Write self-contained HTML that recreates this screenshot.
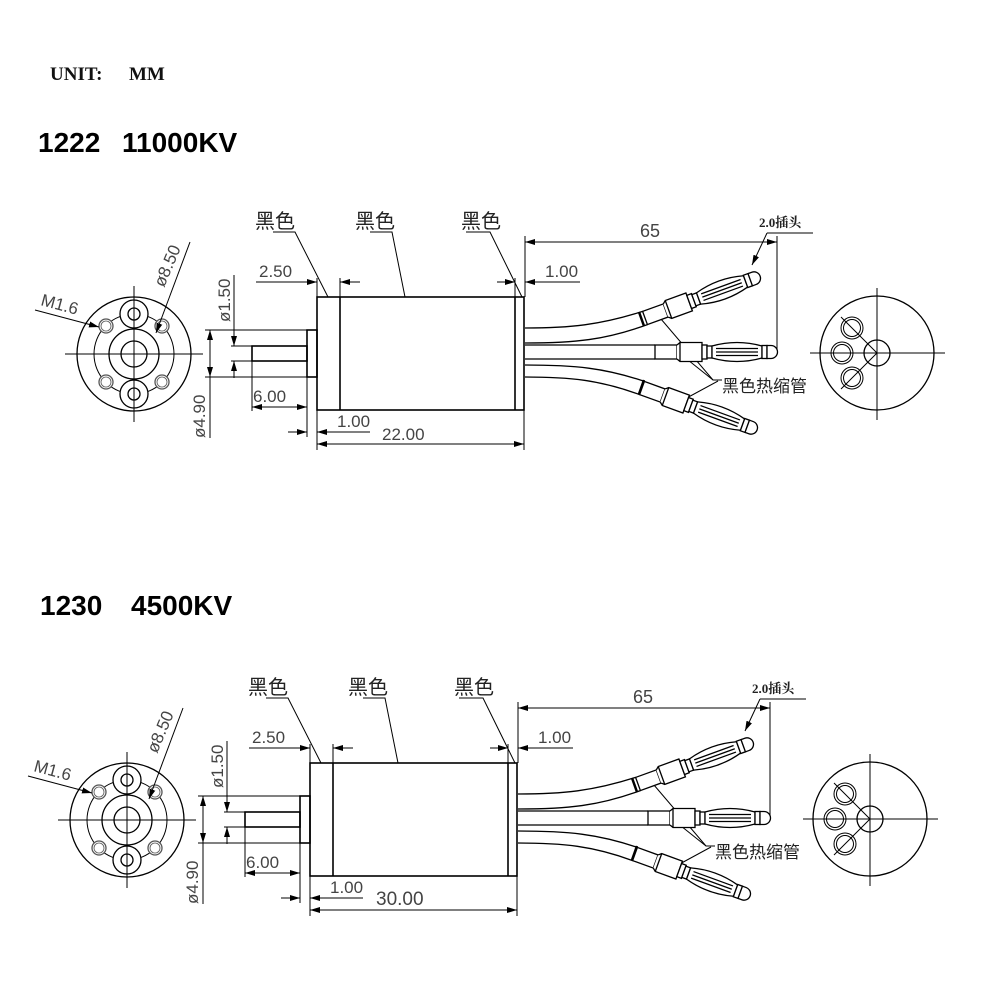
<!DOCTYPE html>
<html><head><meta charset="utf-8"><style>
html,body{margin:0;padding:0;background:#fff;}
svg{display:block;}
.d{font-family:"Liberation Sans","Noto Sans CJK SC",sans-serif;fill:#444;font-size:17px;}
.c{font-family:"Liberation Sans","Noto Sans CJK SC",sans-serif;fill:#222;font-size:20px;}
</style></head><body>
<svg width="1000" height="1000" viewBox="0 0 1000 1000" xmlns="http://www.w3.org/2000/svg">
<defs>
<marker id="a" viewBox="0 0 10 6" refX="10" refY="3" markerWidth="10" markerHeight="6" markerUnits="userSpaceOnUse" orient="auto-start-reverse"><path d="M0,0 L10,3 L0,6 Z" fill="#000"/></marker>
<g id="conn" stroke="#000" stroke-width="1.3" fill="#fff">
<rect x="0" y="-7" width="22" height="14"/>
<path d="M22,-7 L25,-9.5 L47,-9.5 L47,9.5 L25,9.5 L22,7"/>
<line x1="25" y1="-9.5" x2="25" y2="9.5"/>
<rect x="47" y="-7" width="5" height="14"/>
<rect x="52" y="-6" width="5" height="12"/>
<path d="M57,-6 Q82,-13 107,-6 L107,6 Q82,13 57,6 Z"/>
<line x1="61" y1="-3.5" x2="103" y2="-3.5"/><line x1="61" y1="0" x2="103" y2="0"/><line x1="61" y1="3.5" x2="103" y2="3.5"/>
<rect x="107" y="-6.5" width="5" height="13"/>
<path d="M112,-6.5 L116,-6.5 A6.5,6.5 0 0 1 116,6.5 L112,6.5 Z"/>
</g>
<g id="dwg" stroke="#000" stroke-width="1.3" fill="none">
<line x1="65" y1="354" x2="203" y2="354" stroke-width="1"/>
<circle cx="134" cy="354" r="57"/>
<circle cx="134" cy="354" r="40" stroke-width="1"/>
<circle cx="134" cy="354" r="25"/>
<circle cx="134" cy="354" r="13"/>
<circle cx="134" cy="314" r="14" fill="#fff"/><circle cx="134" cy="314" r="6"/>
<circle cx="134" cy="394" r="14" fill="#fff"/><circle cx="134" cy="394" r="6"/>
<line x1="134" y1="286" x2="134" y2="422" stroke-width="1"/>
<g fill="#fff" stroke="#555"><circle cx="106" cy="326" r="7"/><circle cx="162" cy="326" r="7"/><circle cx="106" cy="382" r="7"/><circle cx="162" cy="382" r="7"/></g>
<g stroke-width="0.8" stroke="#555"><circle cx="106" cy="326" r="5"/><circle cx="162" cy="326" r="5"/><circle cx="106" cy="382" r="5"/><circle cx="162" cy="382" r="5"/></g>
<line x1="190" y1="242" x2="156" y2="333" stroke-width="1" marker-end="url(#a)"/>
<line x1="35" y1="310" x2="99" y2="327" stroke-width="1" marker-end="url(#a)"/>
<rect x="317" y="297" width="207" height="113" stroke-width="1.6"/>
<line x1="340" y1="297" x2="340" y2="410" stroke-width="1.6"/>
<line x1="515" y1="297" x2="515" y2="410" stroke-width="1.6"/>
<rect x="307" y="330" width="10" height="47" stroke-width="1.6"/>
<rect x="252" y="346" width="55" height="15" stroke-width="1.6"/>
<g stroke-width="1">
<line x1="234" y1="275" x2="234" y2="346" marker-end="url(#a)"/>
<line x1="234" y1="378" x2="234" y2="361" marker-end="url(#a)"/>
<line x1="231" y1="346" x2="252" y2="346"/><line x1="231" y1="361" x2="252" y2="361"/>
<line x1="210" y1="354" x2="210" y2="330" marker-end="url(#a)"/>
<line x1="210" y1="354" x2="210" y2="377" marker-end="url(#a)"/>
<line x1="210" y1="377" x2="210" y2="438"/>
<line x1="205" y1="330" x2="307" y2="330"/><line x1="205" y1="377" x2="307" y2="377"/>
<line x1="252" y1="361" x2="252" y2="411"/>
<line x1="307" y1="377" x2="307" y2="437"/>
<line x1="280" y1="407" x2="252" y2="407" marker-end="url(#a)"/>
<line x1="280" y1="407" x2="307" y2="407" marker-end="url(#a)"/>
<line x1="288" y1="432" x2="307" y2="432" marker-end="url(#a)"/>
<line x1="370" y1="432" x2="317" y2="432" marker-end="url(#a)"/>
<line x1="317" y1="410" x2="317" y2="450"/>
<line x1="524" y1="410" x2="524" y2="450"/>
<line x1="420" y1="444" x2="317" y2="444" marker-end="url(#a)"/>
<line x1="420" y1="444" x2="524" y2="444" marker-end="url(#a)"/>
<line x1="256" y1="282" x2="317" y2="282" marker-end="url(#a)"/>
<line x1="317" y1="278" x2="317" y2="297"/>
<line x1="340" y1="278" x2="340" y2="297"/>
<line x1="360" y1="282" x2="340" y2="282" marker-end="url(#a)"/>
<line x1="497" y1="282" x2="515" y2="282" marker-end="url(#a)"/>
<line x1="515" y1="278" x2="515" y2="297"/>
<line x1="525" y1="236" x2="525" y2="297"/>
<line x1="580" y1="282" x2="525" y2="282" marker-end="url(#a)"/>
<line x1="650" y1="242" x2="525" y2="242" marker-end="url(#a)"/>
<line x1="650" y1="242" x2="777" y2="242" marker-end="url(#a)"/>
<line x1="777" y1="236" x2="777" y2="352"/>
<polyline points="273,232 295,232 328,297"/>
<polyline points="370,232 392,232 405,297"/>
<polyline points="466,232 490,232 522,297"/>
<line x1="767" y1="233" x2="813" y2="233"/>
<line x1="767" y1="233" x2="752" y2="265" marker-end="url(#a)"/>
<polyline points="655,312 713,380 722,380"/>
<line x1="713" y1="380" x2="688" y2="360"/>
<line x1="718" y1="381" x2="683" y2="400"/>
</g>
<path d="M525,328 C570,328 600,325 642.6,311.4"/>
<path d="M525,343 C575,343 605,340 647.4,324.6"/>
<line x1="525" y1="345" x2="655" y2="345"/>
<line x1="525" y1="359" x2="655" y2="359"/>
<path d="M525,365 C575,365 605,368 644.4,381.4"/>
<path d="M525,377 C570,377 600,380 639.6,394.6"/>
<line x1="639" y1="312" x2="644" y2="326" stroke-width="2.5"/>
<line x1="644" y1="380" x2="639" y2="394" stroke-width="2.5"/>
<use href="#conn" transform="translate(645,318) rotate(-20)"/>
<use href="#conn" transform="translate(655,352)"/>
<use href="#conn" transform="translate(642,388) rotate(20)"/>
<circle cx="877" cy="353" r="57"/>
<line x1="810" y1="353" x2="945" y2="353" stroke-width="1"/>
<line x1="877" y1="288" x2="877" y2="420" stroke-width="1"/>
<circle cx="877" cy="353" r="13"/>
<g stroke-width="1"><circle cx="852" cy="328" r="11"/><circle cx="852" cy="328" r="8.5"/>
<circle cx="842" cy="353" r="11"/><circle cx="842" cy="353" r="8.5"/>
<circle cx="852" cy="378" r="11"/><circle cx="852" cy="378" r="8.5"/>
<polyline points="841,317 877,353 841,389"/></g>
<g stroke="none">
<text class="d" x="0" y="0" transform="translate(164,288) rotate(-67)">ø8.50</text>
<text class="d" x="0" y="0" transform="translate(40,305) rotate(15)">M1.6</text>
<text class="d" x="0" y="0" transform="translate(230,322) rotate(-90)">ø1.50</text>
<text class="d" x="0" y="0" transform="translate(205,438) rotate(-90)">ø4.90</text>
<text class="d" x="253" y="402">6.00</text>
<text class="d" x="337" y="427">1.00</text>
<text class="d" x="259" y="277">2.50</text>
<text class="d" x="545" y="277">1.00</text>
<text class="d" x="640" y="237" style="font-size:18px">65</text>
<text class="c" x="255" y="228">黑色</text>
<text class="c" x="355" y="228">黑色</text>
<text class="c" x="461" y="228">黑色</text>
<text x="759" y="227" style="font-family:'Liberation Serif','Noto Serif CJK SC',serif;font-size:13px;font-weight:bold;fill:#222">2.0插头</text>
<text x="722" y="392" style="font-family:'Liberation Sans','Noto Sans CJK SC',sans-serif;font-size:17px;fill:#222">黑色热缩管</text>
</g>
</g>
</defs>
<text x="50" y="80" style="font-family:'Liberation Serif',serif;font-size:19px;font-weight:bold;fill:#111">UNIT:</text>
<text x="129" y="80" style="font-family:'Liberation Serif',serif;font-size:19px;font-weight:bold;fill:#111">MM</text>
<g style="font-family:'Liberation Sans',sans-serif;font-size:28px;font-weight:bold;fill:#000">
<text x="38" y="152">1222</text>
<text x="122" y="152">11000KV</text>
<text x="40" y="615">1230</text>
<text x="131" y="615">4500KV</text>
</g>
<use href="#dwg"/>
<text class="d" x="382" y="440">22.00</text>
<g transform="translate(-7,466)"><use href="#dwg"/></g>
<rect x="368" y="888" width="60" height="19" fill="#fff"/>
<text class="d" x="376" y="905" style="font-size:19px">30.00</text>
</svg>
</body></html>
